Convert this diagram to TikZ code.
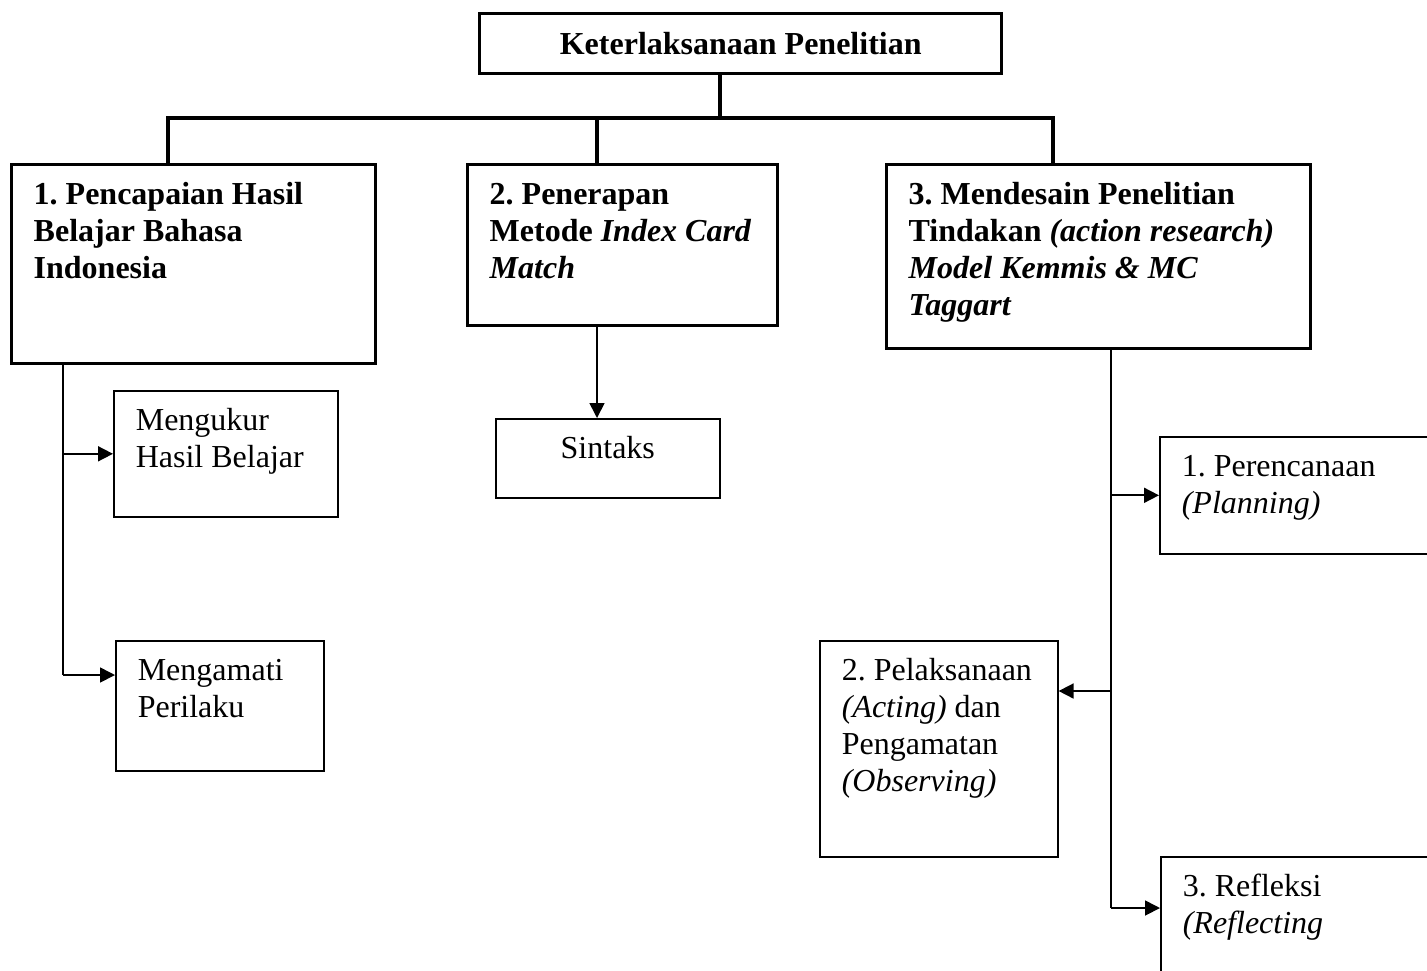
\documentclass[tikz,border=0pt]{standalone}
\usepackage{fontspec}
\setmainfont{Liberation Serif}
\usetikzlibrary{arrows.meta}
\frenchspacing
\newcommand{\boxtxt}[3]{\parbox[t][#2][t]{#1}{\strut#3}}

\begin{document}
\begin{tikzpicture}[x=0.5pt, y=-0.5pt]
    \tikzset{every node/.style={font=\fontsize{16}{18.5}\selectfont},
      >={Triangle[length=7.5pt, width=7.5pt]},
      main/.style={draw, line width=1.7pt, anchor=north west, inner xsep=11pt, inner ysep=7pt,
        font=\fontsize{16}{18.5}\selectfont\bfseries},
      sub/.style={draw, line width=0.8pt, anchor=north west, inner xsep=11pt, inner ysep=7pt},
      thickline/.style={line width=1.7pt}, thinline/.style={line width=0.85pt}}
    \useasboundingbox (0,0) rectangle (1427,970);
    \clip (0,0) rectangle (1427,970);
    \node[main, minimum width=261pt, minimum height=30pt, inner sep=0pt] (K) at (478,12) {Keterlaksanaan Penelitian};
    \node[main] (A1) at (10,163) {\boxtxt{160pt}{85.5pt}{1. Pencapaian Hasil\\ Belajar Bahasa\\ Indonesia}};
    \node[main] (A2) at (466,163) {\boxtxt{133pt}{66.5pt}{2. Penerapan\\ Metode \textit{Index Card}\\ \textit{Match}}};
    \node[main] (A3) at (885,163) {\boxtxt{190pt}{78pt}{3. Mendesain Penelitian\\ Tindakan \textit{(action research)}\\ \textit{Model Kemmis \& MC}\\ \textit{Taggart}}};
    \node[sub] (B1) at (113,390) {\boxtxt{90pt}{49pt}{Mengukur\\ Hasil Belajar}};
    \node[sub] (B2) at (115,640) {\boxtxt{82pt}{51pt}{Mengamati\\ Perilaku}};
    \node[sub] (C1) at (495,418) {\boxtxt{90pt}{25.5pt}{\centering Sintaks}};
    \node[sub] (D1) at (1159,436) {\boxtxt{128pt}{44.5pt}{1. Perencanaan\\ \textit{(Planning)}}};
    \node[sub] (D2) at (819,640) {\boxtxt{97pt}{94pt}{2. Pelaksanaan\\ \textit{(Acting)} dan\\ Pengamatan\\ \textit{(Observing)}}};
    \node[sub] (D3) at (1160,856) {\boxtxt{128pt}{66pt}{3. Refleksi\\ \textit{(Reflecting}}};
    \coordinate (J) at (720,118);
    \coordinate (L) at (168,118);
    \coordinate (M) at (597,118);
    \coordinate (R) at (1053,118);
    \coordinate (T1) at (63,675);
    \coordinate (T3) at (1111,908);
    \coordinate (Q) at (1111,691);
    \draw[thickline] (K.south -| J) -- (J);
    \draw[thickline] (A1.north -| L) -- (L) -- (R) -- (A3.north -| R);
    \draw[thickline] (M) -- (A2.north -| M);
    \draw[thinline] (A1.south -| T1) -- (T1);
    \draw[thinline, ->] (B1.west -| T1) -- (B1.west);
    \draw[thinline, ->] (T1) -- (T1 -| B2.west);
    \draw[thinline, ->] (A2.south -| M) -- (C1.north -| M);
    \draw[thinline] (A3.south -| T3) -- (T3);
    \draw[thinline, ->] (D1.west -| T3) -- (D1.west);
    \draw[thinline, ->] (Q) -- (Q -| D2.east);
    \draw[thinline, ->] (T3) -- (T3 -| D3.west);
\end{tikzpicture}
\end{document}
